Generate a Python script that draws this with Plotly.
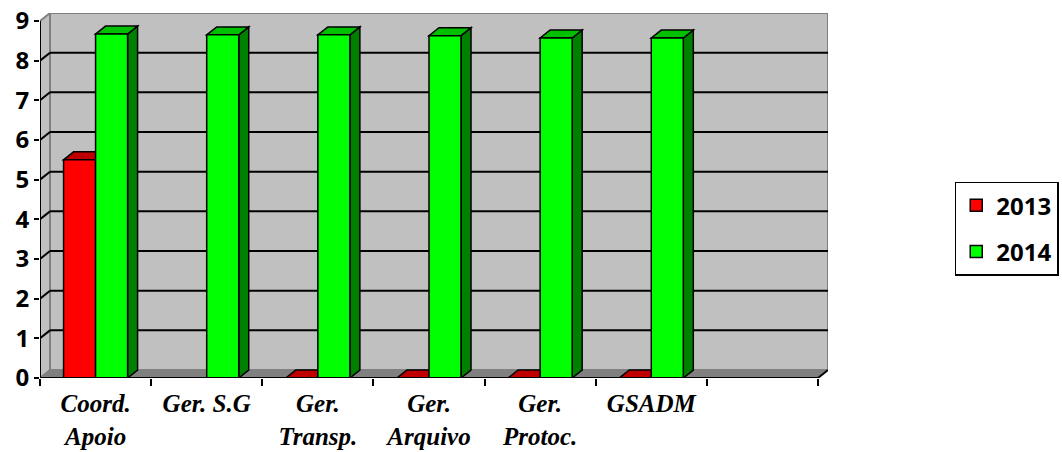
import plotly.graph_objects as go

# Data
categories = ["Coord.<br>Apoio", "Ger. S.G", "Ger.<br>Transp.", "Ger.<br>Arquivo",
              "Ger.<br>Protoc.", "GSADM", " "]
series_names = ["2013", "2014"]
values_2013 = [5.5, None, 0, 0, 0, 0, None]
values_2014 = [8.67, 8.65, 8.65, 8.63, 8.57, 8.57, None]
y_ticks = [0, 1, 2, 3, 4, 5, 6, 7, 8, 9]

# Styling
front_colors = {"2013": "#FF0000", "2014": "#00FF00"}
top_colors = {"2013": "#C00000", "2014": "#00C000"}
side_colors = {"2013": "#800000", "2014": "#008000"}
bar_w = 0.288          # bar width in category units
offsets = {"2013": -bar_w, "2014": 0.0}
dx, dy = 0.09, 0.201   # depth offset of the 3-D effect (x in category units, y in value units)
y_max = 9
n = len(categories)

fig = go.Figure()
for name, vals in zip(series_names, [values_2013, values_2014]):
    fig.add_trace(go.Bar(
        name=name, x=categories, y=vals,
        width=bar_w, offset=offsets[name],
        marker=dict(color=front_colors[name], line=dict(color="black", width=1.5)),
        legendgroup=name,
    ))

shapes = []

def poly(pts, fill, line_color, width, layer):
    path = "M " + " L ".join(f"{x},{y}" for x, y in pts) + " Z"
    return dict(type="path", path=path, xref="x", yref="y", fillcolor=fill,
                line=dict(color=line_color, width=width), layer=layer)

x_left, x_right = -0.5, n - 0.5
# back wall, side wall and floor
shapes.append(poly([(x_left + dx, dy), (x_right + dx, dy), (x_right + dx, y_max + dy), (x_left + dx, y_max + dy)],
                   "#C0C0C0", "#808080", 2, "below"))
shapes.append(poly([(x_left, 0), (x_left + dx, dy), (x_left + dx, y_max + dy), (x_left, y_max)],
                   "#C0C0C0", "#808080", 2, "below"))
shapes.append(poly([(x_left, 0), (x_right, 0), (x_right + dx, dy), (x_left + dx, dy)],
                   "#808080", "#808080", 1, "below"))
# wall gridlines
for v in y_ticks[1:-1]:
    shapes.append(dict(type="line", xref="x", yref="y", x0=x_left, y0=v, x1=x_left + dx, y1=v + dy,
                       line=dict(color="black", width=2), layer="below"))
    shapes.append(dict(type="line", xref="x", yref="y", x0=x_left + dx, y0=v + dy, x1=x_right + dx, y1=v + dy,
                       line=dict(color="black", width=2), layer="below"))
# front axes
shapes.append(dict(type="line", xref="x", yref="y", x0=x_left, y0=0, x1=x_left, y1=y_max,
                   line=dict(color="black", width=2), layer="above"))
shapes.append(dict(type="line", xref="x", yref="y", x0=x_left, y0=0, x1=x_right, y1=0,
                   line=dict(color="black", width=2), layer="above"))
shapes.append(dict(type="line", xref="x", yref="y", x0=x_right, y0=0, x1=x_right + dx, y1=dy,
                   line=dict(color="black", width=2), layer="above"))

# top and side faces of each bar
for name, vals in zip(series_names, [values_2013, values_2014]):
    for i, v in enumerate(vals):
        if v is None:
            continue
        x0 = i + offsets[name]
        x1 = x0 + bar_w
        if v > 0:
            shapes.append(poly([(x1, 0), (x1, v), (x1 + dx, v + dy), (x1 + dx, dy)],
                               side_colors[name], "black", 1.5, "between"))
        shapes.append(poly([(x0, v), (x1, v), (x1 + dx, v + dy), (x0 + dx, v + dy)],
                           top_colors[name], "black", 1.5, "between"))

fig.update_layout(
    width=1062, height=452,
    margin=dict(l=40, r=234, t=13, b=74, autoexpand=False),
    paper_bgcolor="white", plot_bgcolor="white",
    barmode="overlay",
    shapes=shapes,
    showlegend=True,
    legend=dict(xref="container", yref="container", x=0.899, y=0.598,
                xanchor="left", yanchor="top",
                bordercolor="black", borderwidth=1.5, bgcolor="white",
                font=dict(family="Noto Sans", size=24, color="black", weight="bold"),
                tracegroupgap=12, itemwidth=30),
    xaxis=dict(type="category", categoryorder="array", categoryarray=categories,
               range=[x_left, x_right + dx], tickson="boundaries", automargin=False,
               ticks="outside", ticklen=7, tickwidth=2, tickcolor="black",
               ticklabelstandoff=8,
               showgrid=False, showline=False, zeroline=False,
               tickfont=dict(family="Liberation Serif", size=25, color="black",
                             weight="bold", style="italic")),
    yaxis=dict(range=[0, y_max + dy + 0.0], tickvals=y_ticks, automargin=False,
               ticks="outside", ticklen=5, tickwidth=2, tickcolor="black",
               showgrid=False, showline=False, zeroline=False,
               tickfont=dict(family="Noto Sans", size=24, color="black", weight="bold")),
)

fig.write_html("out.html")
